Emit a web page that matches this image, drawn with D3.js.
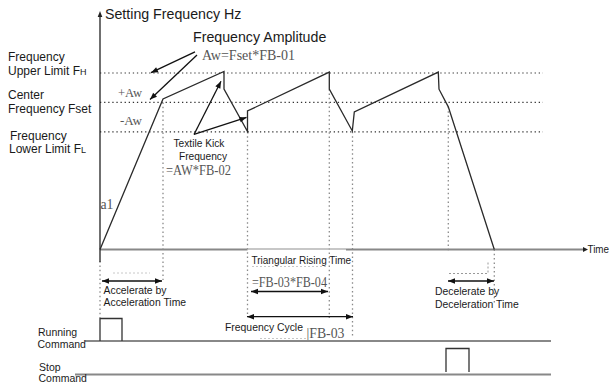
<!DOCTYPE html>
<html><head><meta charset="utf-8">
<script src="https://cdn.jsdelivr.net/npm/d3@7"></script>
<style>
html,body{margin:0;padding:0;background:#fff;}
svg{display:block;}
.sans{font-family:"Liberation Sans",Arial,sans-serif;fill:#1a1a1a;}
.serif{font-family:"Liberation Serif","DejaVu Serif",serif;fill:#555;}
</style>
</head><body>
<svg id="c" width="610" height="384"></svg>
<script>
// ---- data (time units, frequency units) ----
const waveT = [0, 12.6, 24.8, 24.8, 29.5, 29.5, 45.86, 45.86, 50.46, 50.86, 67.66, 67.8, 69.66, 78.86];
const waveF = [0, 51.2, 60.5, 54.5, 40.1, 47.1, 60.3, 54.5, 40.3, 46.8, 60.3, 54.5, 48.5, 0];
const levelNames = ["FH", "Fset", "FL"];
const levelF = [60, 50, 40];
const markerT = [12.6, 29.5, 45.86, 50.5, 69.66, 78.86, 0];
const markerTopF = [50, 40, 54.5, 40, 48.5, 0, -4];
const markerBottomY = [280, 317, 318, 337, 252, 305, 318];
const spanNames = ["accel", "rising", "cycle", "decel"];
const spanStart = [0.4, 30.2, 29.4, 69.6];
const spanEnd = [12.4, 45.6, 50.6, 78.8];
const spanY = [281, 291.5, 316.7, 281];
const runPulse = [0, 4.4];
const stopPulse = [69.2, 73.8];

const svg = d3.select("#c");
const x = d3.scaleLinear().domain([0, 97]).range([100, 585]);
const y = d3.scaleLinear().domain([0, 60]).range([249.5, 73]);

function arrowHead(g, x1, y1, x2, y2, len, half, color){
  const a = Math.atan2(y2 - y1, x2 - x1);
  const bx = x2 - len*Math.cos(a), by = y2 - len*Math.sin(a);
  const px = -Math.sin(a)*half, py = Math.cos(a)*half;
  g.append("path").attr("d", `M${x2},${y2}L${bx+px},${by+py}L${bx-px},${by-py}Z`)
    .attr("fill", color || "#111");
}
function arrow(g, x1, y1, x2, y2, both){
  g.append("line").attr("x1",x1).attr("y1",y1).attr("x2",x2).attr("y2",y2)
    .attr("stroke","#111").attr("stroke-width",1.3);
  arrowHead(g, x1, y1, x2, y2, 7, 2.8);
  if (both) arrowHead(g, x2, y2, x1, y1, 7, 2.8);
}

// faint text-box artifacts
const faint = svg.append("g").attr("stroke","#c8c8c8").attr("stroke-width",1).attr("stroke-dasharray","2 2").attr("fill","none");
faint.append("line").attr("x1",113).attr("y1",273).attr("x2",150).attr("y2",273);
faint.append("line").attr("x1",252).attr("y1",266.5).attr("x2",328).attr("y2",266.5);
faint.append("line").attr("x1",260).attr("y1",338.5).attr("x2",306).attr("y2",338.5);
const faint2 = svg.append("g").attr("stroke","#999").attr("stroke-width",1).attr("stroke-dasharray","2 2").attr("fill","none");
faint2.append("path").attr("d","M449,273.5H488V261.5");

// level dotted lines
svg.append("g").selectAll("line").data(levelF).join("line")
  .attr("x1", x(0)).attr("x2", x(88.6))
  .attr("y1", d => y(d)).attr("y2", d => y(d))
  .attr("stroke","#333").attr("stroke-width",1.2).attr("stroke-dasharray","1.3 2.8");

// vertical dotted markers
svg.append("g").selectAll("line").data(markerT).join("line")
  .attr("x1", d => x(d)).attr("x2", d => x(d))
  .attr("y1", (d,i) => y(markerTopF[i])).attr("y2", (d,i) => markerBottomY[i])
  .attr("stroke","#8a8a8a").attr("stroke-width",1.3).attr("stroke-dasharray","1.5 2.8");

// time axis
svg.append("line").attr("x1",x(0)).attr("x2",x(29.5)).attr("y1",249.5).attr("y2",249.5).attr("stroke","#888").attr("stroke-width",2);
svg.append("line").attr("x1",x(29.5)).attr("x2",x(49.2)).attr("y1",249).attr("y2",249).attr("stroke","#b5b5b5").attr("stroke-width",1.3);
svg.append("line").attr("x1",x(49.2)).attr("x2",584).attr("y1",249.5).attr("y2",249.5).attr("stroke","#888").attr("stroke-width",2);
arrowHead(svg, 579, 249.5, 588, 249.5, 5, 2.5, "#222");
svg.append("text").attr("class","sans").attr("x",587.5).attr("y",253).attr("font-size",10)
  .attr("textLength",21.5).attr("lengthAdjust","spacingAndGlyphs").text("Time");

// y axis
svg.append("line").attr("x1",x(0)).attr("x2",x(0)).attr("y1",15).attr("y2",262).attr("stroke","#222").attr("stroke-width",1.3);
arrowHead(svg, 100, 20, 100, 11, 6, 2.3, "#222");
svg.append("text").attr("class","sans").attr("x",105).attr("y",19).attr("font-size",14.2).text("Setting Frequency Hz");

// waveform
const pts = waveT.map((t,i) => [x(t), y(waveF[i])]);
svg.append("path").attr("d", d3.line()(pts)).attr("fill","none")
  .attr("stroke","#2a2a2a").attr("stroke-width",1.3).attr("stroke-linejoin","miter");

// left labels
const L = svg.append("g").attr("class","sans").attr("font-size",12);
L.append("text").attr("x",8).attr("y",60.5).text("Frequency");
const t1 = L.append("text").attr("x",8).attr("y",74.5); t1.append("tspan").text("Upper Limit F"); t1.append("tspan").attr("font-size",9).text("H");
L.append("text").attr("x",8).attr("y",98.5).text("Center");
L.append("text").attr("x",8).attr("y",113).text("Frequency Fset");
L.append("text").attr("x",10).attr("y",139.5).text("Frequency");
const t2 = L.append("text").attr("x",9).attr("y",152.5); t2.append("tspan").text("Lower Limit F"); t2.append("tspan").attr("font-size",9).text("L");

// serif labels
function serif(txt, xx, yy, size, len){
  svg.append("text").attr("class","serif").attr("x",xx).attr("y",yy).attr("font-size",size)
    .attr("textLength",len).attr("lengthAdjust","spacingAndGlyphs").text(txt);
}
serif("Aw=Fset*FB-01", 202, 59.5, 14, 93);
serif("+Aw", 118, 96.5, 13, 24);
serif("-Aw", 120, 124.5, 13, 22);
serif("=AW*FB-02", 166, 174.5, 15, 65);
serif("a1", 100.5, 208.5, 15, 13);
serif("=FB-03*FB-04", 252, 287, 15, 75);
serif("|FB-03", 306.5, 337.5, 14.5, 38);

// amplitude title and arrows
svg.append("text").attr("class","sans").attr("x",193).attr("y",42).attr("font-size",14.2).text("Frequency Amplitude");
arrow(svg, x(19), y(67.2), x(10.2), y(60.1));
arrow(svg, x(19.4), y(66.1), x(10), y(51));

// textile kick
const K = svg.append("g").attr("class","sans").attr("font-size",10.2).attr("text-anchor","middle");
K.append("text").attr("x",199).attr("y",147).text("Textile Kick");
K.append("text").attr("x",203).attr("y",159.5).text("Frequency");
arrow(svg, x(18.8), y(39.1), x(24.2), y(57.2));
arrow(svg, x(18.8), y(39.1), x(29.3), y(44.9));

// span arrows
spanStart.forEach((s,i) => arrow(svg, x(s), spanY[i], x(spanEnd[i]), spanY[i], true));
const S = svg.append("g").attr("class","sans").attr("font-size",10.4);
S.append("text").attr("x",103.5).attr("y",293.5).text("Accelerate by");
S.append("text").attr("x",103.5).attr("y",305.5).text("Acceleration Time");
S.append("text").attr("x",251.5).attr("y",263.5).attr("font-size",10).text("Triangular Rising Time");
S.append("text").attr("x",225).attr("y",331).text("Frequency Cycle");
S.append("text").attr("x",435).attr("y",295).text("Decelerate by");
S.append("text").attr("x",435).attr("y",307.5).text("Deceleration Time");

// commands
svg.append("line").attr("x1",85).attr("x2",551).attr("y1",341).attr("y2",341).attr("stroke","#888").attr("stroke-width",2);
svg.append("line").attr("x1",75).attr("x2",551).attr("y1",374.5).attr("y2",374.5).attr("stroke","#888").attr("stroke-width",2);
svg.append("path").attr("d",`M${x(runPulse[0])},341V318.5H${x(runPulse[1])}V341`).attr("fill","none").attr("stroke","#333").attr("stroke-width",1.3);
svg.append("path").attr("d",`M${x(stopPulse[0])},372V348.5H${x(stopPulse[1])}V372`).attr("fill","none").attr("stroke","#333").attr("stroke-width",1.3);
const C = svg.append("g").attr("class","sans").attr("font-size",10.5);
C.append("text").attr("x",38).attr("y",336).text("Running");
C.append("text").attr("x",37.5).attr("y",347.5).text("Command");
C.append("text").attr("x",39).attr("y",370.5).text("Stop");
C.append("text").attr("x",38.5).attr("y",382).text("Command");
</script>
</body></html>
